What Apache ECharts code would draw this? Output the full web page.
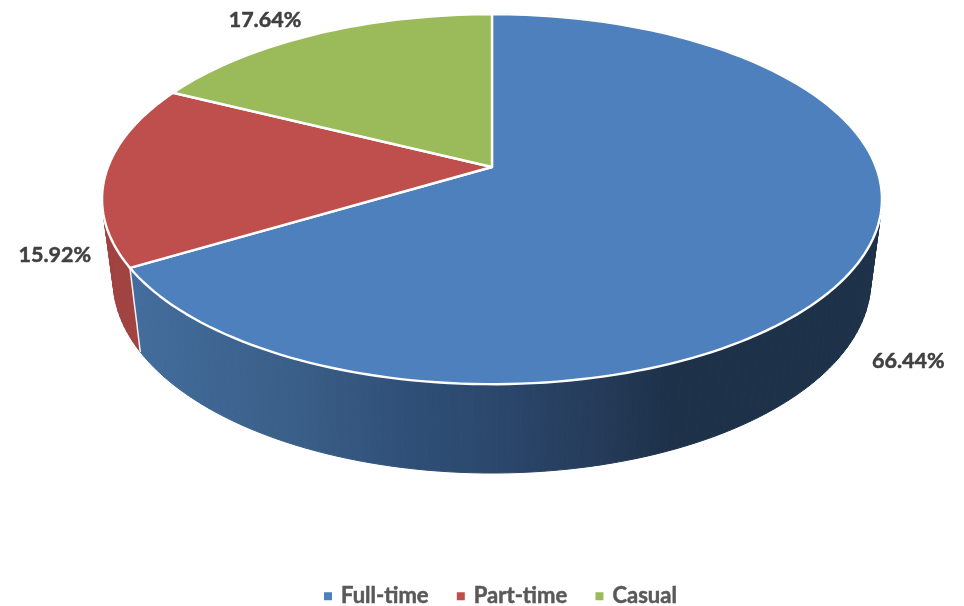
<!DOCTYPE html>
<html>
<head>
<meta charset="utf-8">
<script src="https://cdn.jsdelivr.net/npm/echarts@6/dist/echarts.min.js"></script>
<style>html,body{margin:0;padding:0;background:#fff}#c{width:964px;height:606px}</style>
</head>
<body>
<div id="c"></div>
<script>
// Data
const categories = ['Full-time', 'Part-time', 'Casual'];
const shares = [66.44, 15.92, 17.64];

// Styles
const topColors = ['#4D80BC', '#BF4F4C', '#9BBA59'];
const labelShift = [[51, 97], [-51, 81], [-51, -14]];

// Perspective model of the tilted disc: top rim and lower rim
const topRim = { cx: 492, cy: 167, a: 384, b: 179.4, k: 0.174 };
const lowRim = { cx: 492, cy: 247, a: 373, b: 186.7, k: 0.174 };
const project = (rim, t) => {
  const u = Math.sin(t), v = Math.cos(t), w = 1 + rim.k * v;
  return [rim.cx + rim.a * u / w, rim.cy - rim.b * v / w];
};

const blueSide = new echarts.graphic.LinearGradient(130, 0, 670, 0, [
  { offset: 0, color: '#436D9D' },
  { offset: 0.3, color: '#3A5F88' },
  { offset: 0.5, color: '#305079' },
  { offset: 0.7, color: '#2A466A' },
  { offset: 0.88, color: '#253A58' },
  { offset: 1, color: '#1D3149' }
], true);
const sideFills = [blueSide, '#A14341', '#7C9247'];

const total = shares.reduce((s, v) => s + v, 0);
const startAngle = i => shares.slice(0, i).reduce((s, v) => s + v, 0) / total * 2 * Math.PI;
const STEP = Math.PI / 120;

function arcAngles(a0, a1) {
  const n = Math.max(2, Math.ceil((a1 - a0) / STEP));
  const out = [];
  for (let j = 0; j <= n; j++) out.push(a0 + (a1 - a0) * j / n);
  return out;
}

function renderSlice(i) {
  const a0 = startAngle(i), a1 = startAngle(i + 1);
  const ts = arcAngles(a0, a1);
  const children = [];
  // side wall, one thin facet per step
  for (let j = 0; j < ts.length - 1; j++) {
    children.push({
      type: 'polygon', z2: 1, silent: true,
      shape: { points: [project(topRim, ts[j]), project(topRim, ts[j + 1]), project(lowRim, ts[j + 1]), project(lowRim, ts[j])] },
      style: { fill: sideFills[i], stroke: sideFills[i], lineWidth: 1 }
    });
  }
  // white edge where the visible side walls meet
  if (i === 0) {
    const p = project(topRim, a1), q = project(lowRim, a1);
    children.push({
      type: 'line', z2: 2, silent: true,
      shape: { x1: p[0], y1: p[1], x2: q[0], y2: q[1] },
      style: { stroke: '#F4F4F4', lineWidth: 1.5 }
    });
  }
  // top face
  const pts = [[topRim.cx, topRim.cy]].concat(ts.map(t => project(topRim, t)));
  children.push({
    type: 'polygon', z2: 3, silent: true,
    shape: { points: pts },
    style: { fill: topColors[i], stroke: '#FFFFFF', lineWidth: 2.4, lineJoin: 'round' }
  });
  // value label
  const mid = project(topRim, (a0 + a1) / 2);
  children.push({
    type: 'text', z2: 4, silent: true,
    style: {
      x: mid[0] + labelShift[i][0], y: mid[1] + labelShift[i][1],
      text: shares[i].toFixed(2) + '%',
      fill: '#404040', stroke: '#404040', lineWidth: 0.5,
      font: 'bold 21.5px Lato, "Open Sans", sans-serif',
      textAlign: 'center', textVerticalAlign: 'middle'
    }
  });
  return { type: 'group', children };
}

const chart = echarts.init(document.getElementById('c'), null, { renderer: 'canvas' });
chart.setOption({
  animation: false,
  backgroundColor: '#ffffff',
  legend: {
    data: categories,
    left: 319, top: 580,
    icon: 'rect', itemWidth: 8, itemHeight: 8, itemGap: 28,
    selectedMode: false,
    textStyle: {
      color: '#595959', fontFamily: 'Lato, "Open Sans", sans-serif', fontWeight: 'bold', fontSize: 22,
      padding: [0, 0, 0, 4], textBorderColor: '#595959', textBorderWidth: 0.5
    }
  },
  series: categories.map((name, i) => ({
    type: 'custom',
    name,
    coordinateSystem: 'none',
    silent: true,
    itemStyle: { color: topColors[i] },
    data: [[shares[i]]],
    renderItem: () => renderSlice(i)
  }))
});
</script>
</body>
</html>
